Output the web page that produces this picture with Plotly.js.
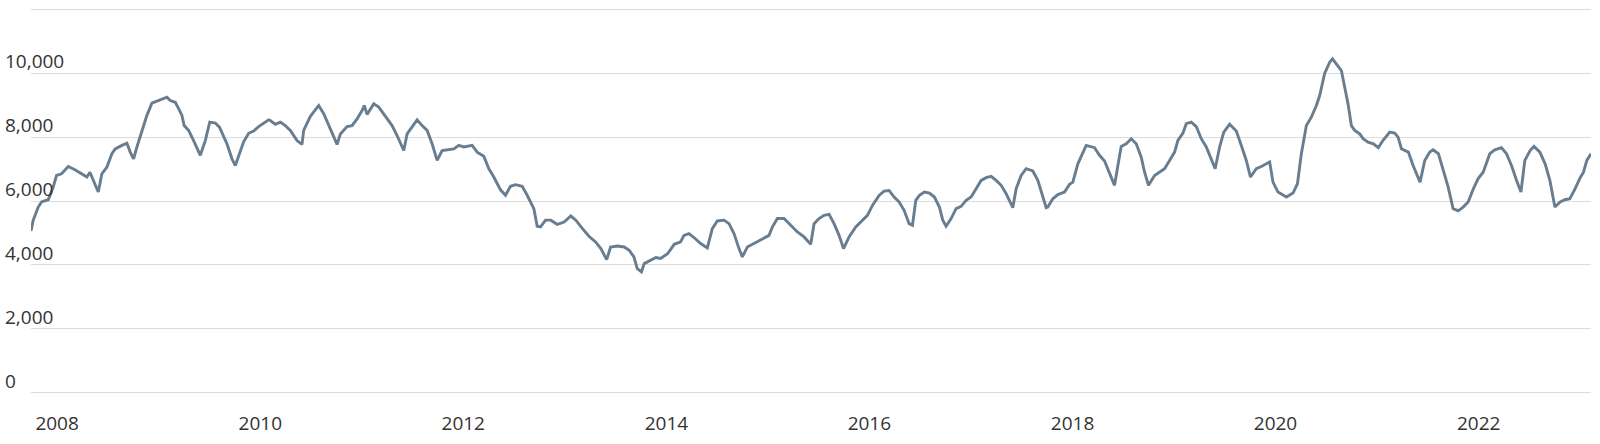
<!DOCTYPE html>
<html>
<head>
<meta charset="utf-8">
<script src="https://cdn.plot.ly/plotly-3.0.1.min.js"></script>
<style>
  html, body { margin: 0; padding: 0; background: #fff; }
  #chart { width: 1600px; height: 444px; }
</style>
</head>
<body>
<div id="chart"></div>
<script>
// time as decimal years
var years = [
  2007.744,2007.767,2007.816,2007.849,2007.915,2007.964,2007.997,2008.046,2008.112,2008.177,
  2008.243,2008.293,2008.325,2008.358,2008.407,2008.440,2008.490,2008.539,2008.572,2008.638,
  2008.687,2008.720,2008.753,2008.785,2008.835,2008.884,2008.933,2008.983,2009.032,2009.081,
  2009.114,2009.163,2009.196,2009.229,2009.252,2009.295,2009.344,2009.410,2009.459,2009.502,
  2009.558,2009.600,2009.673,2009.722,2009.755,2009.788,2009.837,2009.886,2009.936,2009.985,
  2010.034,2010.084,2010.100,2010.149,2010.199,2010.248,2010.297,2010.363,2010.412,2010.429,
  2010.494,2010.577,2010.626,2010.675,2010.724,2010.757,2010.790,2010.856,2010.905,2010.955,
  2011.004,2011.027,2011.053,2011.119,2011.168,2011.234,2011.267,2011.300,2011.349,2011.415,
  2011.447,2011.497,2011.546,2011.595,2011.645,2011.694,2011.743,2011.793,2011.842,2011.908,
  2011.957,2012.006,2012.088,2012.138,2012.203,2012.253,2012.302,2012.368,2012.417,2012.466,
  2012.516,2012.581,2012.631,2012.696,2012.729,2012.762,2012.811,2012.861,2012.926,2012.992,
  2013.058,2013.107,2013.173,2013.238,2013.304,2013.354,2013.413,2013.452,2013.518,2013.584,
  2013.633,2013.682,2013.715,2013.754,2013.781,2013.846,2013.896,2013.945,2014.011,2014.077,
  2014.142,2014.175,2014.224,2014.274,2014.339,2014.405,2014.454,2014.504,2014.569,2014.619,
  2014.668,2014.717,2014.750,2014.800,2014.865,2014.931,2014.980,2015.013,2015.046,2015.095,
  2015.161,2015.178,2015.227,2015.293,2015.358,2015.424,2015.457,2015.506,2015.556,2015.605,
  2015.654,2015.703,2015.746,2015.802,2015.868,2015.933,2015.982,2016.032,2016.098,2016.147,
  2016.196,2016.245,2016.295,2016.344,2016.393,2016.426,2016.459,2016.492,2016.541,2016.591,
  2016.640,2016.689,2016.722,2016.755,2016.804,2016.854,2016.903,2016.952,2017.001,2017.051,
  2017.100,2017.149,2017.199,2017.248,2017.297,2017.346,2017.379,2017.412,2017.445,2017.494,
  2017.544,2017.609,2017.659,2017.698,2017.741,2017.758,2017.807,2017.856,2017.922,2017.971,
  2018.004,2018.053,2018.103,2018.135,2018.218,2018.267,2018.316,2018.365,2018.415,2018.448,
  2018.480,2018.530,2018.579,2018.628,2018.678,2018.710,2018.750,2018.809,2018.858,2018.907,
  2018.957,2019.006,2019.039,2019.088,2019.121,2019.170,2019.220,2019.269,2019.318,2019.368,
  2019.407,2019.450,2019.493,2019.548,2019.614,2019.664,2019.713,2019.755,2019.811,2019.861,
  2019.910,2019.943,2019.976,2020.025,2020.107,2020.173,2020.216,2020.255,2020.305,2020.347,
  2020.354,2020.403,2020.436,2020.485,2020.534,2020.561,2020.600,2020.649,2020.682,2020.715,
  2020.748,2020.781,2020.830,2020.863,2020.912,2020.962,2021.011,2021.060,2021.126,2021.175,
  2021.208,2021.241,2021.307,2021.356,2021.422,2021.471,2021.520,2021.553,2021.603,2021.652,
  2021.701,2021.750,2021.800,2021.849,2021.898,2021.948,2021.997,2022.046,2022.112,2022.161,
  2022.227,2022.276,2022.326,2022.375,2022.418,2022.457,2022.507,2022.546,2022.605,2022.655,
  2022.704,2022.753,2022.803,2022.852,2022.901,2022.951,2023.000,2023.033,2023.066,2023.109
];
var values = [
  5060,5400,5810,5970,6040,6440,6800,6850,7080,6980,
  6850,6750,6900,6650,6280,6850,7060,7480,7630,7740,
  7810,7530,7320,7690,8210,8680,9060,9125,9170,9250,
  9145,9090,8890,8680,8360,8210,7890,7430,7890,8470,
  8440,8310,7790,7320,7110,7430,7850,8120,8190,8330,
  8440,8540,8520,8400,8470,8360,8210,7890,7770,8210,
  8650,8990,8730,8360,8000,7770,8100,8330,8360,8570,
  8830,8990,8710,9040,8940,8650,8470,8360,8050,7580,
  8100,8330,8540,8360,8210,7790,7270,7580,7600,7630,
  7740,7690,7740,7530,7400,7010,6750,6350,6180,6460,
  6510,6460,6180,5760,5210,5190,5400,5400,5270,5340,
  5530,5400,5135,4895,4720,4510,4165,4560,4590,4560,
  4460,4250,3880,3780,4040,4145,4230,4200,4350,4645,
  4720,4925,4980,4850,4670,4530,5135,5375,5400,5290,
  4980,4510,4250,4560,4670,4770,4875,4925,5185,5450,
  5450,5400,5240,5030,4875,4645,5290,5450,5550,5580,
  5290,4925,4510,4875,5185,5400,5550,5860,6175,6310,
  6330,6125,5970,5710,5290,5240,6020,6175,6280,6250,
  6125,5810,5400,5210,5450,5760,5830,6020,6125,6385,
  6645,6730,6770,6645,6490,6230,6020,5790,6385,6800,
  7010,6940,6645,6230,5790,5810,6070,6200,6280,6520,
  6590,7165,7530,7740,7670,7430,7250,6850,6490,7110,
  7710,7790,7950,7790,7370,6900,6490,6800,6900,7010,
  7270,7530,7900,8125,8420,8470,8330,7950,7690,7320,
  7010,7690,8155,8400,8190,7740,7270,6750,7010,7080,
  7165,7220,6590,6280,6125,6250,6540,7480,8365,8625,
  8625,8990,9300,10000,10345,10450,10290,10080,9560,9040,
  8360,8210,8100,7950,7840,7790,7670,7900,8155,8125,
  8000,7635,7530,7110,6590,7270,7530,7600,7480,6960,
  6440,5760,5690,5810,5970,6385,6700,6900,7480,7600,
  7670,7480,7110,6650,6280,7270,7580,7710,7530,7165,
  6650,5810,5970,6040,6070,6385,6730,6900,7270,7480
];
var yTicks = [0, 2000, 4000, 6000, 8000, 10000, 12000];
var yLabels = ['0', '2,000', '4,000', '6,000', '8,000', '10,000', ''];

function toDate(t) {
  var y = Math.floor(t);
  var a = Date.UTC(y, 0, 1), b = Date.UTC(y + 1, 0, 1);
  return new Date(a + (t - y) * (b - a)).toISOString().slice(0, 10);
}
var dates = years.map(toDate);

var trace = {
  x: dates,
  y: values,
  type: 'scatter',
  mode: 'lines',
  line: {color: '#687d8f', width: 2.9},
  hoverinfo: 'skip'
};

// y labels sit left of the grid, just above each line
var annos = [];
for (var i = 0; i < yTicks.length; i++) {
  if (!yLabels[i]) continue;
  annos.push({
    xref: 'paper', yref: 'y',
    x: 0, y: yTicks[i],
    xanchor: 'left', yanchor: 'bottom',
    xshift: -27, yshift: -2,
    borderpad: 0,
    showarrow: false,
    text: yLabels[i],
    font: {family: '"Open Sans", sans-serif', size: 19, color: '#333'}
  });
}

var layout = {
  width: 1600,
  height: 444,
  // a little padding on the y range so the 0 and top grid lines are kept
  margin: {l: 31, r: 9, t: 7, b: 49},
  paper_bgcolor: '#fff',
  plot_bgcolor: '#fff',
  font: {family: '"Open Sans", sans-serif', size: 19, color: '#333'},
  showlegend: false,
  xaxis: {
    type: 'date',
    range: [dates[0], dates[dates.length - 1]],
    tick0: '2008-01-01',
    dtick: 'M24',
    tickformat: '%Y',
    showgrid: false,
    zeroline: false,
    showline: false,
    ticks: '',
    ticklabelstandoff: 15
  },
  yaxis: {
    range: [-72, 12072],
    tickmode: 'array',
    tickvals: yTicks,
    showticklabels: false,
    showgrid: true,
    gridcolor: '#dcdcdc',
    gridwidth: 1,
    zeroline: false,
    showline: false,
    ticks: ''
  },
  annotations: annos
};

Plotly.newPlot('chart', [trace], layout, {displayModeBar: false, staticPlot: true});
</script>
</body>
</html>
